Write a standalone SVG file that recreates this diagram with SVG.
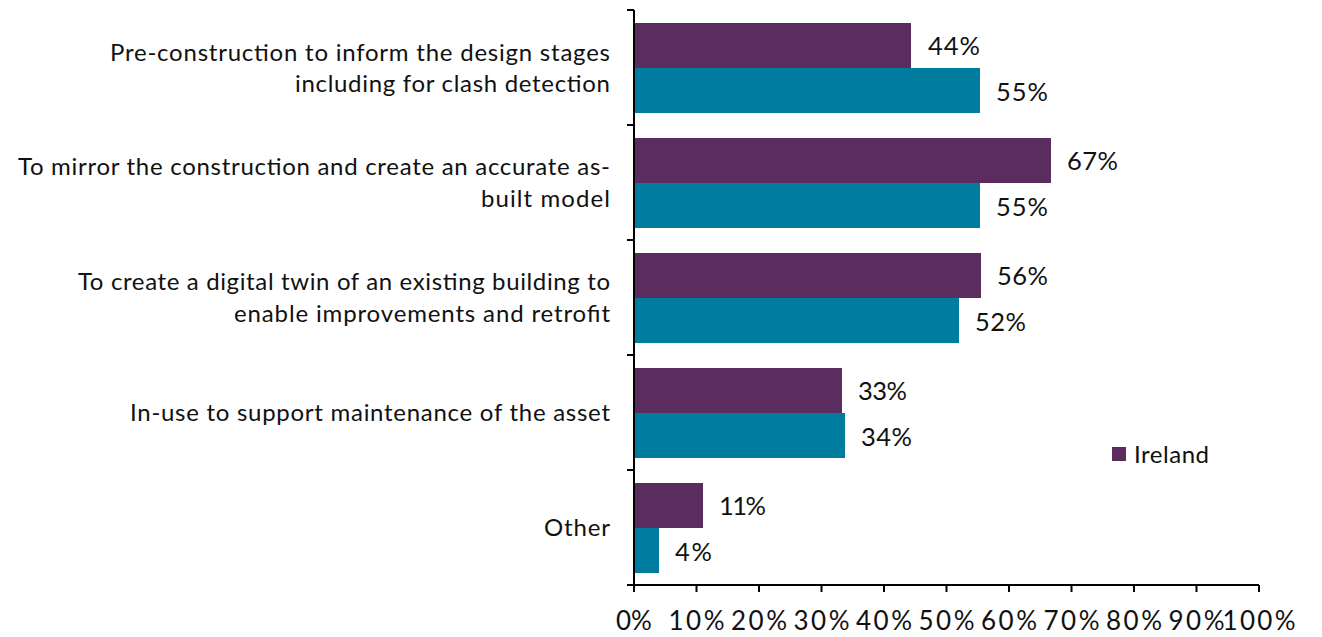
<svg xmlns="http://www.w3.org/2000/svg" width="1322" height="637" viewBox="0 0 1322 637">
<style>
text{font-family:Lato,"Open Sans","Liberation Sans",sans-serif;fill:#111;font-size:24px}
.cat{text-anchor:end}
.v{font-size:25.5px}
.tick{text-anchor:middle;font-size:26px}
.p{fill:#5B2D5E}
.t{fill:#007C9F}
.ax{stroke:#000;stroke-width:2;fill:none}
</style>
<rect width="1322" height="637" fill="#fff"/>
<g id="axes">
<path class="ax" d="M634 10V585H1259M627 10H634M627 125H634M627 240H634M627 355H634M627 470H634M627 585H634"/>
<path class="ax" d="M634 585v7M696.5 585v7M759 585v7M821.5 585v7M884 585v7M946.5 585v7M1009 585v7M1071.5 585v7M1134 585v7M1196.5 585v7M1259 585v7"/>
<text class="tick" x="634" y="630">0%</text>
<text class="tick" x="696.5" y="630" textLength="56" lengthAdjust="spacing">10%</text>
<text class="tick" x="759" y="630" textLength="56" lengthAdjust="spacing">20%</text>
<text class="tick" x="821.5" y="630" textLength="56" lengthAdjust="spacing">30%</text>
<text class="tick" x="884" y="630" textLength="56" lengthAdjust="spacing">40%</text>
<text class="tick" x="946.5" y="630" textLength="56" lengthAdjust="spacing">50%</text>
<text class="tick" x="1009" y="630" textLength="56" lengthAdjust="spacing">60%</text>
<text class="tick" x="1071.5" y="630" textLength="56" lengthAdjust="spacing">70%</text>
<text class="tick" x="1134" y="630" textLength="56" lengthAdjust="spacing">80%</text>
<text class="tick" x="1196.5" y="630" textLength="56" lengthAdjust="spacing">90%</text>
<text class="tick" x="1259" y="630" textLength="73" lengthAdjust="spacing">100%</text>
</g>
<g id="cat1">
<text class="cat" x="610" y="61" textLength="500" lengthAdjust="spacing">Pre-construction to inform the design stages</text>
<text class="cat" x="610" y="92" textLength="315" lengthAdjust="spacing">including for clash detection</text>
<rect class="p" x="635" y="23" width="276" height="45"/>
<rect class="t" x="635" y="68" width="345" height="45"/>
<text class="v" x="928" y="55" textLength="52" lengthAdjust="spacing">44%</text>
<text class="v" x="996" y="101" textLength="52" lengthAdjust="spacing">55%</text>
</g>
<g id="cat2">
<text class="cat" x="610" y="175" textLength="592" lengthAdjust="spacing">To mirror the construction and create an accurate as-</text>
<text class="cat" x="610" y="207" textLength="129" lengthAdjust="spacing">built model</text>
<rect class="p" x="635" y="138" width="416" height="45"/>
<rect class="t" x="635" y="183" width="345" height="45"/>
<text class="v" x="1067" y="170" textLength="51" lengthAdjust="spacing">67%</text>
<text class="v" x="996" y="216" textLength="52" lengthAdjust="spacing">55%</text>
</g>
<g id="cat3">
<text class="cat" x="610" y="290" textLength="532" lengthAdjust="spacing">To create a digital twin of an existing building to</text>
<text class="cat" x="610" y="322" textLength="376" lengthAdjust="spacing">enable improvements and retrofit</text>
<rect class="p" x="635" y="253" width="346" height="45"/>
<rect class="t" x="635" y="298" width="324" height="45"/>
<text class="v" x="997" y="285" textLength="51" lengthAdjust="spacing">56%</text>
<text class="v" x="975" y="331" textLength="51" lengthAdjust="spacing">52%</text>
</g>
<g id="cat4">
<text class="cat" x="610" y="421" textLength="480" lengthAdjust="spacing">In-use to support maintenance of the asset</text>
<rect class="p" x="635" y="368" width="207" height="45"/>
<rect class="t" x="635" y="413" width="210" height="45"/>
<text class="v" x="858" y="400" textLength="49" lengthAdjust="spacing">33%</text>
<text class="v" x="861" y="446" textLength="51" lengthAdjust="spacing">34%</text>
</g>
<g id="cat5">
<text class="cat" x="610" y="536" textLength="66" lengthAdjust="spacing">Other</text>
<rect class="p" x="635" y="483" width="68" height="45"/>
<rect class="t" x="635" y="528" width="24" height="45"/>
<text class="v" x="719" y="515" textLength="47" lengthAdjust="spacing">11%</text>
<text class="v" x="675" y="561" textLength="37" lengthAdjust="spacing">4%</text>
</g>
<g id="legend">
<rect class="p" x="1112" y="447" width="14" height="14"/>
<text x="1134" y="463" textLength="75" lengthAdjust="spacing">Ireland</text>
</g>
</svg>
